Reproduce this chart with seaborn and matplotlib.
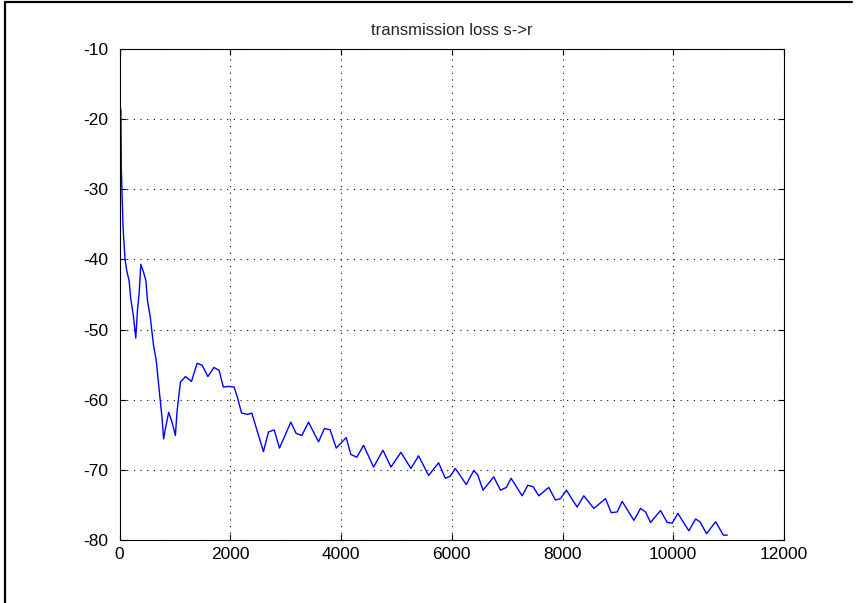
import matplotlib
matplotlib.use("Agg")
import matplotlib.pyplot as plt
from matplotlib.lines import Line2D
import seaborn as sns
import pandas as pd

# ---- data ----
distance = [25, 33, 64, 100, 130, 173, 203, 246, 276, 294, 324, 354, 385, 433, 476, 506,
            555, 615, 664, 706, 767, 797, 827, 888, 949, 1009, 1040, 1100, 1191, 1300, 1342,
            1403, 1494, 1596, 1706, 1797, 1876, 1978, 2070, 2131, 2204, 2313, 2389, 2599,
            2690, 2793, 2889, 3094, 3190, 3293, 3413, 3594, 3702, 3805, 3913, 4094, 4178,
            4286, 4407, 4588, 4757, 4902, 5082, 5263, 5401, 5582, 5763, 5884, 5974, 6065,
            6263, 6396, 6468, 6565, 6758, 6880, 6988, 7072, 7271, 7373, 7469, 7571, 7752,
            7872, 7963, 8071, 8263, 8385, 8566, 8777, 8879, 8988, 9078, 9289, 9409, 9500,
            9590, 9770, 9891, 9982, 10084, 10282, 10403, 10482, 10602, 10765, 10904, 10976]
loss = [-18.6, -27.0, -35.4, -40.0, -41.6, -43.0, -45.6, -47.8, -49.9, -51.2, -47.3, -44.9,
        -40.7, -41.8, -43.0, -45.9, -48.2, -52.3, -54.4, -57.8, -62.5, -65.6, -64.2, -61.8,
        -63.2, -65.1, -61.6, -57.5, -56.7, -57.4, -56.3, -54.8, -55.1, -56.7, -55.4, -55.8,
        -58.2, -58.1, -58.2, -59.7, -61.9, -62.1, -61.9, -67.4, -64.6, -64.3, -66.9, -63.2,
        -64.8, -65.1, -63.2, -66.0, -64.1, -64.3, -66.9, -65.4, -67.8, -68.2, -66.5, -69.6,
        -67.2, -69.6, -67.5, -69.8, -68.0, -70.8, -69.0, -71.2, -70.9, -69.8, -72.1, -70.1,
        -70.7, -72.9, -71.0, -72.9, -72.5, -71.2, -73.7, -72.2, -72.4, -73.7, -72.5, -74.3,
        -74.1, -72.9, -75.3, -73.7, -75.5, -74.1, -76.1, -76.0, -74.5, -77.2, -75.5, -76.0,
        -77.5, -75.8, -77.5, -77.6, -76.2, -78.7, -77.0, -77.4, -79.1, -77.4, -79.3, -79.3]
x_ticks = [0, 2000, 4000, 6000, 8000, 10000, 12000]
y_ticks = [-80, -70, -60, -50, -40, -30, -20, -10]
title = "transmission loss s->r"

df = pd.DataFrame({"distance": distance, "loss": loss})

sns.set_style("white")
plt.rcParams["font.family"] = ["Liberation Sans", "DejaVu Sans"]

fig = plt.figure(figsize=(8.57, 6.03), dpi=100)
fig.patch.set_facecolor("white")
ax = fig.add_axes([119.5 / 857, 1 - 540 / 603, (784 - 119.5) / 857, (540 - 49) / 603])

sns.lineplot(data=df, x="distance", y="loss", ax=ax, color="#0000ff", linewidth=1.0,
             estimator=None, sort=False)

ax.set_xlim(0, 12000)
ax.set_ylim(-80, -10)
ax.set_xticks(x_ticks)
ax.set_yticks(y_ticks)
ax.set_xticklabels([str(t) for t in x_ticks])
ax.set_yticklabels([str(t) for t in y_ticks])
ax.set_xlabel("")
ax.set_ylabel("")
ax.set_title(title, fontsize=12, pad=10)

ax.grid(True, color="black", linestyle=(0, (1, 5)), linewidth=0.8)
for s in ax.spines.values():
    s.set_visible(True)
    s.set_color("black")
    s.set_linewidth(0.8)
ax.tick_params(axis="both", which="both", direction="in", length=4, width=0.8,
               top=True, right=True, bottom=True, left=True, labelsize=12.5, colors="black")
ax.tick_params(axis="x", pad=5)
ax.tick_params(axis="y", pad=8)

# window border (top and left edges)
fig.add_artist(Line2D([5 / 857, 5 / 857], [0, 1 - 2 / 603], transform=fig.transFigure,
                      color="black", linewidth=1.6))
fig.add_artist(Line2D([5 / 857, 852 / 857], [1 - 2 / 603, 1 - 2 / 603],
                      transform=fig.transFigure, color="black", linewidth=1.6))

fig.savefig("out.png", dpi=100, facecolor="white")
